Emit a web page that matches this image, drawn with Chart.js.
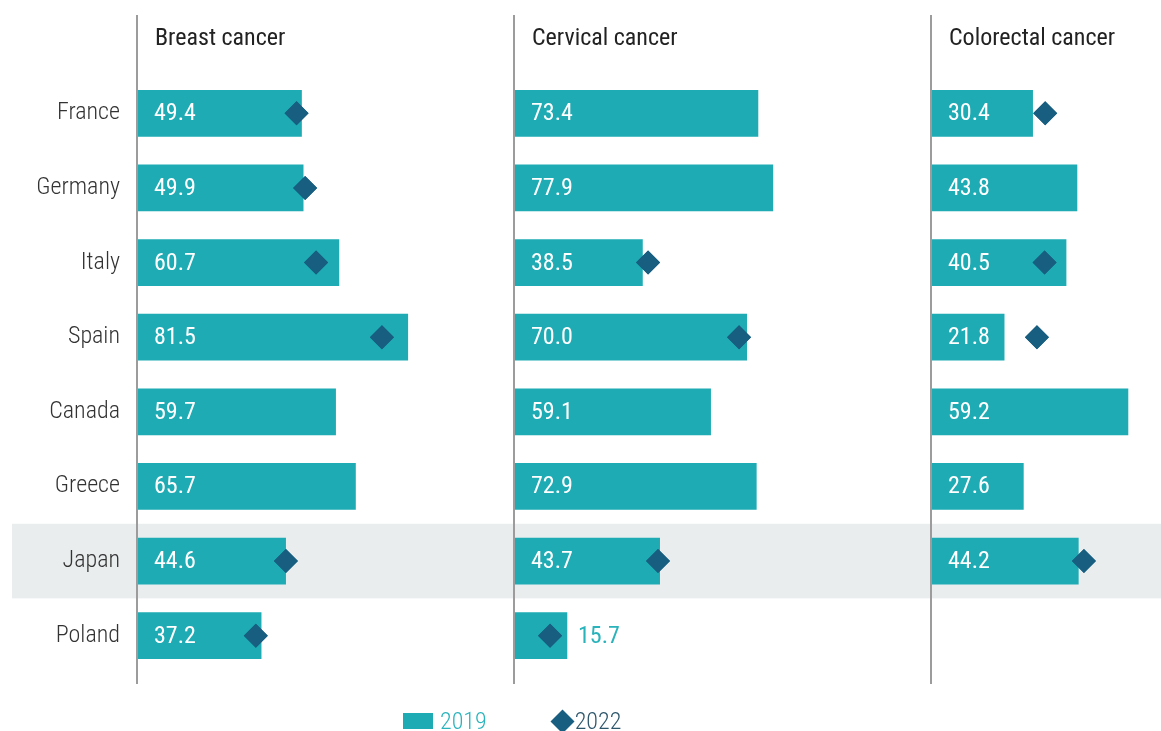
<!DOCTYPE html>
<html>
<head>
<meta charset="utf-8">
<script src="https://cdn.jsdelivr.net/npm/chart.js@4.4.1/dist/chart.umd.min.js"></script>
<style>
  body { margin: 0; background: #fff; }
  #wrap { position: relative; width: 1161px; height: 731px; overflow: hidden; font-family: "Roboto Condensed", Roboto, sans-serif; }
  .panel { position: absolute; top: 0; }
  #legend { position: absolute; top: 707px; left: 403px; display: flex; align-items: center; font-size: 24px; font-weight: 300; }
  .sw { width: 30px; height: 16px; background: #1eabb4; margin-right: 7px; }
  .dm { width: 17px; height: 17px; background: #175e80; transform: rotate(45deg); margin: 0 4px 0 0; }
</style>
</head>
<body>
<div id="wrap">
  <div class="panel" style="left:0"><canvas id="c1" width="515" height="731"></canvas></div>
  <div class="panel" style="left:513px"><canvas id="c2" width="419" height="731"></canvas></div>
  <div class="panel" style="left:930px"><canvas id="c3" width="231" height="731"></canvas></div>
  <div id="legend">
    <div class="sw"></div><span style="color:#2bb3bc;margin-right:67px">2019</span>
    <div class="dm"></div><span style="color:#2d566b">2022</span>
  </div>
</div>
<script>
const countries = ['France', 'Germany', 'Italy', 'Spain', 'Canada', 'Greece', 'Japan', 'Poland'];
const panelTitles = ['Breast cancer', 'Cervical cancer', 'Colorectal cancer'];

const breast2019 = [49.4, 49.9, 60.7, 81.5, 59.7, 65.7, 44.6, 37.2];
const breast2022 = [47.9, 50.5, 53.8, 73.7, null, null, 44.7, 35.6];

const cervical2019 = [73.4, 77.9, 38.5, 70.0, 59.1, 72.9, 43.7, 15.7];
const cervical2022 = [null, null, 40.2, 67.7, null, null, 43.2, 10.6];

const colorectal2019 = [30.4, 43.8, 40.5, 21.8, 59.2, 27.6, 44.2, null];
const colorectal2022 = [34.2, null, 34.0, 31.7, null, null, 45.9, null];

const highlighted = 'Japan';

const teal = '#1eabb4';
const navy = '#175e80';
const fontFam = '"Roboto Condensed", Roboto, sans-serif';
const pxPerUnit = 3.31;

// highlight band goes under everything, incl. the country labels
const panelPlugin = {
    id: 'panel',
    beforeDraw(chart, args, opts) {
        const ctx = chart.ctx;
        const y = chart.scales.y;
        const i = countries.indexOf(highlighted);
        const step = y.getPixelForValue(1) - y.getPixelForValue(0);
        const yc = y.getPixelForValue(i);
        ctx.save();
        ctx.fillStyle = '#e9edee';
        ctx.fillRect(opts.bandLeft, yc - step / 2, chart.width - opts.bandLeft, step);
        ctx.restore();
    },
    beforeDatasetsDraw(chart, args, opts) {
        const ctx = chart.ctx;
        ctx.save();
        ctx.strokeStyle = '#9c9c9c';
        ctx.lineWidth = 2;
        ctx.beginPath();
        ctx.moveTo(chart.chartArea.left - 1, 15);
        ctx.lineTo(chart.chartArea.left - 1, 684);
        ctx.stroke();
        ctx.fillStyle = '#222';
        ctx.font = '400 24px ' + fontFam;
        ctx.textBaseline = 'middle';
        ctx.fillText(opts.title, chart.chartArea.left + 17, 39);
        ctx.restore();
    },
    afterDatasetsDraw(chart) {
        const ctx = chart.ctx;
        const meta = chart.getDatasetMeta(0);
        const values = chart.data.datasets[0].data;
        ctx.save();
        ctx.font = '24px ' + fontFam;
        ctx.textBaseline = 'middle';
        meta.data.forEach((bar, i) => {
            if (values[i] == null) return;
            const w = bar.x - bar.base;
            const txt = values[i].toFixed(1);
            if (w > 60) {
                ctx.fillStyle = '#fff';
                ctx.fillText(txt, bar.base + 16, bar.y + 1);
            } else {
                ctx.fillStyle = '#2bb3bc';
                ctx.fillText(txt, bar.x + 11, bar.y + 1);
            }
        });
        // diamonds back on top of the labels
        chart.getDatasetMeta(1).data.forEach(p => { if (p && !p.skip) p.draw(ctx, chart.chartArea); });
        ctx.restore();
    }
};

function makePanel(id, title, v2019, v2022, first) {
    const canvas = document.getElementById(id);
    const padLeft = first ? 0 : 2;
    const areaWidth = canvas.width - (first ? 138 : padLeft);
    new Chart(canvas, {
        data: {
            labels: countries,
            datasets: [{
                type: 'bar',
                data: v2019,
                backgroundColor: teal,
                barThickness: 46,
                order: 2
            }, {
                type: 'line',
                data: v2022,
                showLine: false,
                clip: false,
                pointStyle: 'rectRot',
                pointRadius: 12,
                pointBackgroundColor: navy,
                pointBorderWidth: 0,
                order: 1
            }]
        },
        options: {
            indexAxis: 'y',
            responsive: false,
            animation: false,
            layout: { autoPadding: false, padding: { top: 76, bottom: 58, left: padLeft, right: 0 } },
            plugins: {
                legend: { display: false },
                tooltip: { enabled: false },
                panel: { title: title, bandLeft: first ? 12 : 0 }
            },
            scales: {
                x: {
                    min: 0,
                    max: areaWidth / pxPerUnit,
                    display: false
                },
                y: {
                    type: 'category',
                    offset: true,
                    display: first,
                    border: { display: false },
                    grid: { display: false, drawTicks: false },
                    ticks: {
                        padding: 18,
                        color: '#333',
                        font: { family: fontFam, size: 24, weight: 300 }
                    },
                    afterFit(scale) { if (first) scale.width = 138; }
                }
            }
        },
        plugins: [panelPlugin]
    });
}

makePanel('c1', panelTitles[0], breast2019, breast2022, true);
makePanel('c2', panelTitles[1], cervical2019, cervical2022, false);
makePanel('c3', panelTitles[2], colorectal2019, colorectal2022, false);
</script>
</body>
</html>
